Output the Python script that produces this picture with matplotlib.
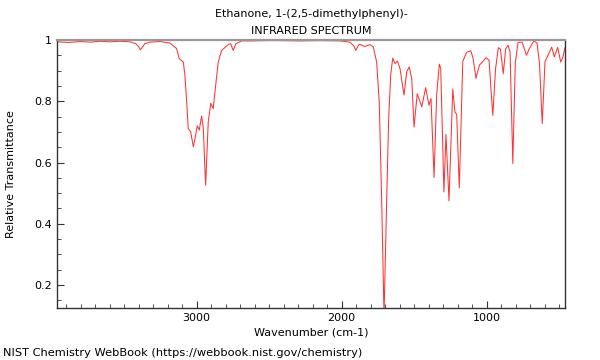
import matplotlib
matplotlib.use("Agg")
import matplotlib.pyplot as plt
from matplotlib.ticker import MultipleLocator, FuncFormatter

title = "Ethanone, 1-(2,5-dimethylphenyl)-\nINFRARED SPECTRUM"
credit = "NIST Chemistry WebBook (https://webbook.nist.gov/chemistry)"

# wavenumber (cm-1) / transmittance
wavenumber = [3963, 3880, 3805, 3730, 3667, 3600, 3529, 3460, 3419, 3400, 3388,
              3375, 3357, 3322, 3253, 3184, 3138, 3120, 3092, 3081, 3069, 3058,
              3041, 3023, 3007, 2996, 2982, 2966, 2954, 2945, 2938, 2930, 2920,
              2903, 2886, 2869, 2851, 2828, 2782, 2766, 2748, 2729, 2690, 2632,
              2500, 2425, 2288, 2150, 2012, 1943, 1915, 1903, 1890, 1879, 1839,
              1805, 1782, 1759, 1741, 1724, 1708, 1690, 1676, 1662, 1648, 1632,
              1616, 1598, 1570, 1552, 1534, 1517, 1501, 1479, 1448, 1421, 1398,
              1384, 1363, 1345, 1327, 1317, 1295, 1281, 1260, 1234, 1219, 1207,
              1189, 1165, 1138, 1110, 1094, 1074, 1050, 1027, 1005, 984, 958,
              939, 920, 905, 886, 869, 853, 839, 820, 803, 784, 756, 726, 706,
              675, 653, 636, 617, 598, 574, 552, 534, 510, 490, 477, 460]
transmittance = [0.994, 0.992, 0.995, 0.993, 0.996, 0.994, 0.996, 0.994, 0.988,
                 0.978, 0.968, 0.976, 0.988, 0.993, 0.995, 0.990, 0.972, 0.939,
                 0.928, 0.885, 0.798, 0.711, 0.700, 0.651, 0.689, 0.720, 0.706,
                 0.752, 0.711, 0.600, 0.526, 0.620, 0.733, 0.793, 0.776, 0.852,
                 0.928, 0.966, 0.985, 0.988, 0.966, 0.988, 0.997, 0.997, 0.998,
                 0.998, 0.997, 0.998, 0.997, 0.993, 0.980, 0.966, 0.978, 0.986,
                 0.979, 0.985, 0.977, 0.928, 0.798, 0.472, 0.100, 0.472, 0.744,
                 0.885, 0.941, 0.923, 0.931, 0.907, 0.820, 0.896, 0.912, 0.874,
                 0.716, 0.825, 0.782, 0.844, 0.787, 0.809, 0.551, 0.820, 0.921,
                 0.907, 0.504, 0.692, 0.475, 0.840, 0.765, 0.757, 0.517, 0.930,
                 0.960, 0.965, 0.940, 0.875, 0.918, 0.930, 0.942, 0.934, 0.754,
                 0.905, 0.975, 0.970, 0.890, 0.971, 0.983, 0.960, 0.597, 0.923,
                 0.992, 0.993, 0.950, 0.972, 0.997, 0.990, 0.923, 0.727, 0.930,
                 0.953, 0.977, 0.945, 0.976, 0.928, 0.940, 0.975]

x_range = (3963, 460)
y_range = (0.125, 1.0)

plt.rcParams['font.family'] = ['DejaVu Sans']
fig = plt.figure(figsize=(6, 3.6), dpi=100)
ax = fig.add_axes([0.095, 0.1444, 0.8467, 0.7445])

ax.plot(wavenumber, transmittance, color='red', lw=0.75, alpha=0.8)

ax.set_xlim(*x_range)
ax.set_ylim(*y_range)
ax.xaxis.set_major_locator(MultipleLocator(1000))
ax.xaxis.set_minor_locator(MultipleLocator(100))
ax.yaxis.set_major_locator(MultipleLocator(0.2))
ax.yaxis.set_minor_locator(MultipleLocator(0.05))
ax.yaxis.set_major_formatter(FuncFormatter(lambda v, p: '%g' % round(v, 2)))
ax.tick_params(which='both', direction='in', labelsize=8, color='#333333')
ax.tick_params(which='major', length=5)
ax.tick_params(which='minor', length=3)

for s in ['left', 'bottom', 'right']:
    ax.spines[s].set_color('#333333')
    ax.spines[s].set_linewidth(1)
ax.spines['top'].set_color('#999999')
ax.spines['top'].set_linewidth(1.6)

ax.set_xlabel("Wavenumber (cm-1)", fontsize=8, labelpad=3)
ax.set_ylabel("Relative Transmittance", fontsize=8, labelpad=13)
ax.set_title(title, fontsize=8, pad=4, linespacing=1.9)
fig.text(0.005, 0.012, credit, fontsize=8.2)

fig.savefig("out.png", dpi=100)
